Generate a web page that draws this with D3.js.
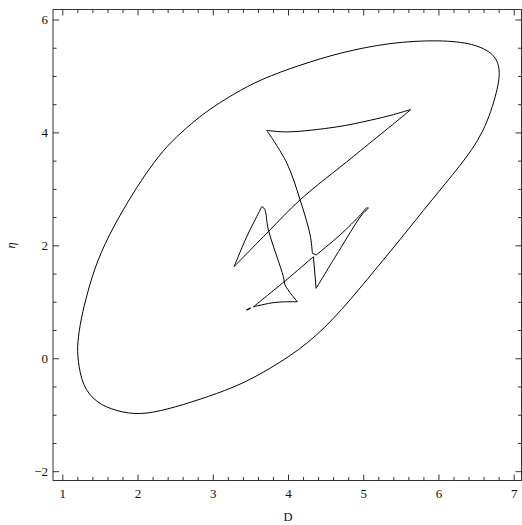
<!DOCTYPE html>
<html>
<head>
<meta charset="utf-8">
<script src="https://cdn.jsdelivr.net/npm/d3@7"></script>
<style>
  body { margin: 0; background: #fff; }
  svg { display: block; }
  .tick-label { font-family: "Liberation Serif", "DejaVu Serif", serif; font-size: 13px; fill: #111; }
  .axis-title { font-family: "Liberation Serif", "DejaVu Serif", serif; font-size: 12.5px; fill: #111; }
</style>
</head>
<body>
<svg id="chart" width="522" height="525"></svg>
<script>
// outer closed curve, [D, eta]
const outerCurve = [
  [6.023, 5.640], [5.358, 5.595], [4.693, 5.415], [4.160, 5.195], [3.642, 4.945],
  [3.274, 4.680], [2.920, 4.380], [2.654, 4.090], [2.388, 3.760], [2.166, 3.380],
  [1.944, 2.935], [1.678, 2.335], [1.457, 1.720], [1.332, 1.150], [1.250, 0.720],
  [1.198, 0.254], [1.205, -0.020], [1.265, -0.490], [1.450, -0.790], [1.720, -0.940],
  [2.033, -1.005], [2.388, -0.910], [2.832, -0.730], [3.274, -0.520], [3.600, -0.310],
  [4.160, 0.140], [4.600, 0.675], [5.050, 1.390], [5.490, 2.100], [5.912, 2.806],
  [6.283, 3.398], [6.610, 3.991], [6.790, 4.760], [6.825, 5.120], [6.745, 5.395],
  [6.470, 5.575]
];

// inner curve, split at its cusps
const innerArcs = [
  [[3.718, 4.037], [3.984, 4.009], [4.649, 4.098], [5.092, 4.215], [5.402, 4.316], [5.631, 4.405]],
  [[5.631, 4.405], [5.594, 4.362], [4.870, 3.575], [4.161, 2.806], [3.739, 2.243], [3.283, 1.622]],
  [[3.283, 1.622], [3.452, 2.155], [3.585, 2.510], [3.652, 2.687]],
  [[3.652, 2.687], [3.690, 2.640], [3.739, 2.274], [3.939, 1.444], [3.961, 1.297], [4.125, 1.000]],
  [[4.125, 1.000], [3.828, 0.989], [3.540, 0.911]],
  [[3.540, 0.911], [4.028, 1.444], [4.338, 1.799]],
  [[4.338, 1.799], [4.374, 1.238]],
  [[4.374, 1.238], [4.671, 1.888], [4.981, 2.540], [5.069, 2.659]],
  [[5.069, 2.659], [5.045, 2.662], [4.970, 2.550], [4.693, 2.185], [4.374, 1.829]],
  [[4.374, 1.829], [4.324, 1.860]],
  [[4.324, 1.860], [4.294, 2.185], [4.161, 2.806], [3.984, 3.458], [3.718, 4.037]]
];

// stray fragment near the lower-left cusp
const strayPiece = [[3.447, 0.853], [3.505, 0.893]];

const xTicks = [1, 2, 3, 4, 5, 6, 7];
const yTicks = [-2, 0, 2, 4, 6];
const xLabel = 'D';
const yLabel = 'η';

const margin = {top: 9.5, right: 0.5, bottom: 44.5, left: 53};
const svg = d3.select('#chart');
const width = +svg.attr('width') - margin.left - margin.right;
const height = +svg.attr('height') - margin.top - margin.bottom;

const x = d3.scaleLinear().domain([0.876, 7.104]).range([0, width]);
const y = d3.scaleLinear().domain([-2.165, 6.177]).range([height, 0]);

const chart = svg.append('g')
  .attr('transform', 'translate(' + margin.left + ',' + margin.top + ')');

// curves
chart.append('path')
  .datum(outerCurve)
  .attr('fill', 'none')
  .attr('stroke', '#000')
  .attr('stroke-width', 1)
  .attr('d', d3.line().x(d => x(d[0])).y(d => y(d[1])).curve(d3.curveBasisClosed));

chart.append('g')
  .selectAll('path')
  .data(innerArcs)
  .enter().append('path')
  .attr('fill', 'none')
  .attr('stroke', '#000')
  .attr('stroke-width', 1)
  .attr('stroke-linejoin', 'round')
  .attr('d', d => d3.line().x(p => x(p[0])).y(p => y(p[1])).curve(d3.curveCatmullRom.alpha(0.5))(d));

chart.append('path')
  .datum(strayPiece)
  .attr('fill', 'none')
  .attr('stroke', '#000')
  .attr('stroke-width', 1.4)
  .attr('d', d3.line().x(p => x(p[0])).y(p => y(p[1])));

// frame with ticks on all sides
const xMinor = d3.range(1, 7.01, 0.2).filter(v => Math.abs(v - Math.round(v)) > 1e-6);
const yMinor = d3.range(-2, 6.01, 0.5).filter(v => Math.abs(v / 2 - Math.round(v / 2)) > 1e-6);

function tickAxis(axisFn, scale, major, minor, labels) {
  const g = chart.append('g');
  g.append('g').call(axisFn(scale).tickValues(minor).tickSize(3.5).tickFormat(''));
  g.append('g').call(axisFn(scale).tickValues(major).tickSize(6).tickPadding(6)
    .tickFormat(labels ? d => d < 0 ? '\u2212' + Math.abs(d) : d : ''));
  g.selectAll('.domain').remove();
  g.selectAll('.tick line').attr('stroke', '#333');
  g.selectAll('.tick text').attr('class', 'tick-label').attr('font-size', null).attr('font-family', null);
  return g;
}

// bottom (ticks point up, inside)
const axisB = tickAxis(d3.axisTop, x, xTicks, xMinor, true);
axisB.attr('transform', 'translate(0,' + height + ')');
axisB.selectAll('.tick text').attr('y', 13).attr('dy', '0.32em');

tickAxis(d3.axisBottom, x, xTicks, xMinor, false);

const axisL = tickAxis(d3.axisRight, y, yTicks, yMinor, true);
axisL.selectAll('.tick text').attr('x', -5).attr('text-anchor', 'end');

const axisR = tickAxis(d3.axisLeft, y, yTicks, yMinor, false);
axisR.attr('transform', 'translate(' + width + ',0)');

chart.append('rect')
  .attr('width', width)
  .attr('height', height)
  .attr('fill', 'none')
  .attr('stroke', '#333')
  .attr('stroke-width', 1);

// axis titles
chart.append('text')
  .attr('class', 'axis-title')
  .attr('x', x(4))
  .attr('y', height + 40.5)
  .attr('text-anchor', 'middle')
  .text(xLabel);

chart.append('text')
  .attr('class', 'axis-title')
  .attr('font-style', 'italic')
  .attr('transform', 'translate(' + (-38) + ',' + y(2) + ') rotate(-90)')
  .attr('text-anchor', 'middle')
  .text(yLabel);
</script>
</body>
</html>
